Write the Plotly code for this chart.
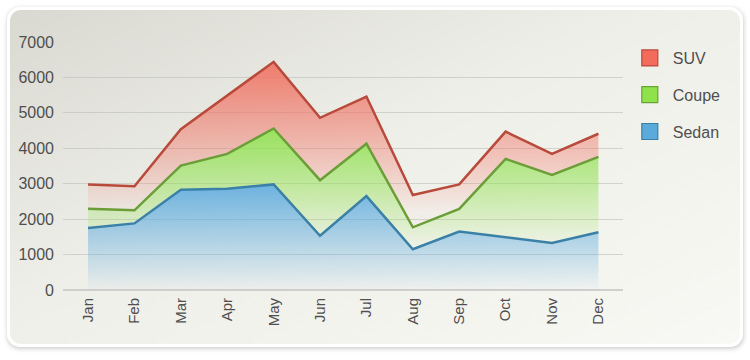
import base64
import plotly.graph_objects as go

months = ["Jan", "Feb", "Mar", "Apr", "May", "Jun", "Jul", "Aug", "Sep", "Oct", "Nov", "Dec"]
sedan = [1750, 1880, 2830, 2860, 2980, 1530, 2650, 1150, 1650, 1490, 1330, 1630]
coupe = [540, 370, 680, 980, 1580, 1570, 1480, 620, 640, 2210, 1920, 2130]
suv = [690, 680, 1030, 1640, 1880, 1760, 1330, 910, 690, 770, 590, 650]
y_ticks = [0, 1000, 2000, 3000, 4000, 5000, 6000, 7000]

W, H = 750, 360
ML, MR, MT, MB = 63, 127, 42, 70
PW, PH = W - ML - MR, H - MT - MB

FONT = "Liberation Sans, Arial, Helvetica, sans-serif"
TXT = "#4f4f4f"

svg = f'''<svg xmlns="http://www.w3.org/2000/svg" width="{W}" height="{H}" viewBox="0 0 {W} {H}">
<defs>
<linearGradient id="g" x1="0" y1="0" x2="1" y2="1">
<stop offset="0" stop-color="#d9d9d2"/>
<stop offset="0.45" stop-color="#efefe9"/>
<stop offset="1" stop-color="#f8f8f4"/>
</linearGradient>
<filter id="s" x="-5%" y="-5%" width="110%" height="110%">
<feGaussianBlur stdDeviation="2"/>
</filter>
</defs>
<rect width="{W}" height="{H}" fill="#ffffff"/>
<rect x="7" y="8" width="737" height="341" rx="13" fill="#b0b0b0" opacity="0.6" filter="url(#s)"/>
<rect x="7" y="7" width="736" height="340" rx="13" fill="#ffffff"/>
<rect x="10" y="10" width="730" height="334" rx="11" fill="url(#g)"/>
</svg>'''
src = "data:image/svg+xml;base64," + base64.b64encode(svg.encode()).decode()

fig = go.Figure()

series = [
    ("Sedan", sedan, "#3b80a6", "rgba(90,170,222,", 0, 3000, "#5aaadc", "#3b7fa3"),
    ("Coupe", coupe, "#6c9e38", "rgba(140,224,72,", 1200, 4600, "#90e24a", "#6aa238"),
    ("SUV", suv, "#b84a3c", "rgba(240,108,92,", 2200, 6500, "#f26b5b", "#b84a3c"),
]

for name, vals, lc, fc, s0, s1, _, _ in series:
    fig.add_trace(go.Scatter(
        x=months, y=vals, name=name, mode="lines", stackgroup="one",
        line=dict(color=lc, width=2.5),
        fillgradient=dict(type="vertical", start=s0, stop=s1,
                          colorscale=[[0, fc + "0.03)"], [1, fc + "0.88)"]]),
        showlegend=False, hoverinfo="x+y+name",
    ))

for i, (name, vals, lc, fc, s0, s1, mc, mlc) in enumerate(reversed(series)):
    fig.add_trace(go.Scatter(
        x=[None], y=[None], name=name, mode="markers", legendgroup=name,
        marker=dict(symbol="square", size=16, color=mc, line=dict(color=mlc, width=1.2)),
        showlegend=True,
    ))

fig.update_layout(
    width=W, height=H,
    margin=dict(l=ML, r=MR, t=MT, b=MB),
    paper_bgcolor="#ffffff",
    plot_bgcolor="rgba(0,0,0,0)",
    font=dict(family=FONT, size=16, color=TXT),
    images=[dict(source=src, xref="paper", yref="paper",
                 x=-ML / PW, y=1 + MT / PH, sizex=W / PW, sizey=H / PH,
                 xanchor="left", yanchor="top", sizing="stretch", layer="below")],
    legend=dict(x=1.005 + 1 / PW, y=1.0 + 1 / PH, xanchor="left", yanchor="top",
                font=dict(family=FONT, size=16, color=TXT), itemwidth=36,
                bgcolor="rgba(0,0,0,0)", tracegroupgap=13, traceorder="grouped"),
    xaxis=dict(type="category", range=[-0.54, 11.53], showgrid=False,
               tickangle=-90, tickfont=dict(size=15, color=TXT),
               showline=False, zeroline=False, ticks="", ticklabelstandoff=4),
    yaxis=dict(range=[0, 7000], tickvals=y_ticks, showgrid=True,
               gridcolor="rgba(190,190,185,0.6)", gridwidth=1,
               zeroline=True, zerolinecolor="#cfcfcb", zerolinewidth=2,
               tickfont=dict(size=16, color=TXT), ticks="", ticklabelstandoff=8,
               showline=False),
    hovermode="x",
)

fig.write_html("out.html", config={"displayModeBar": False},
               post_script="document.body.style.margin='0';document.body.style.padding='0';")
